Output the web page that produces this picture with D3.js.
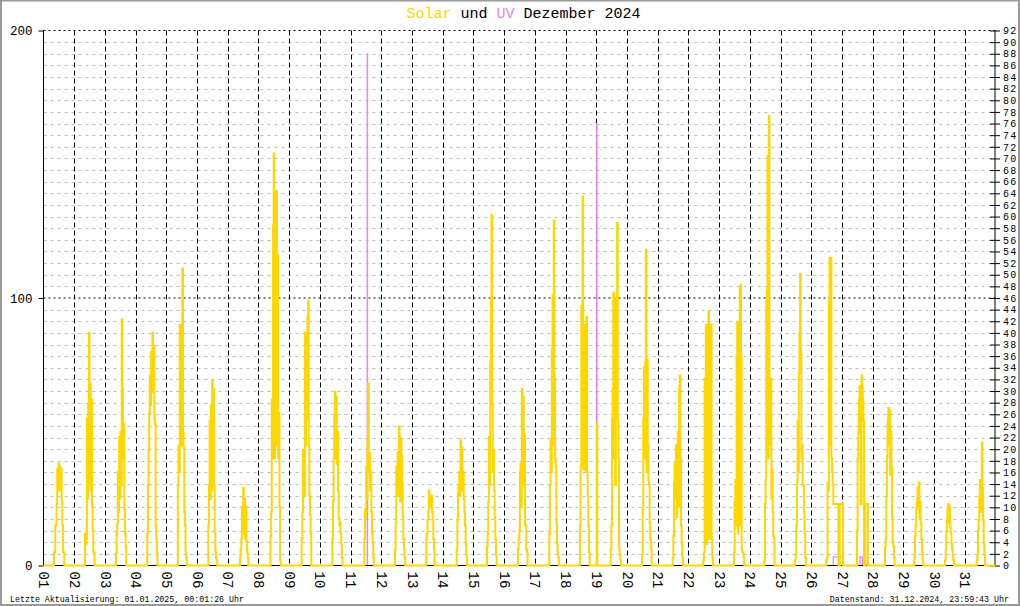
<!DOCTYPE html>
<html><head><meta charset="utf-8">
<script src="https://cdn.jsdelivr.net/npm/d3@7"></script>
<style>
body{margin:0;background:#fff}
svg{display:block}
text{font-family:"Liberation Mono","DejaVu Sans Mono",monospace}
</style>
</head><body>
<svg id="chart" width="1020" height="606"></svg>
<script>
// ---------------- data ----------------
const dayLabels = ["01","02","03","04","05","06","07","08","09","10","11","12","13","14","15","16",
  "17","18","19","20","21","22","23","24","25","26","27","28","29","30","31"];
const leftTicks = [0, 100, 200];
const rightTicks = [0,2,4,6,8,10,12,14,16,18,20,22,24,26,28,30,32,34,36,38,40,42,44,46,
  48,50,52,54,56,58,60,62,64,66,68,70,72,74,76,78,80,82,84,86,88,90,92];
// hour of the first daylight reading of each day
const solarStartHour = [8.2,8.43,8.66,9.12,9.0,8.79,9.57,9.4,9.78,9.7,10.71,10.7,11.16,10.92,10.6,10.82,
  11.28,11.28,11.27,11.73,11.72,11.64,11.63,11.31,11.3,11.76,11.76,9.64,8.53,8.53,9.3];
// solar readings (W/m²), one every 30 minutes from the start hour
const solarValues = [
  [5,5,15,15,23,36,28,38,30,37,28,36,24,15,5,5],
  [12,8,10,55,25,60,87,30,68,28,62,22,13,5,5],
  [5,12,16,35,20,48,25,50,30,92,66,40,53,21,12,7],
  [12,30,43,57,71,60,80,65,87,70,82,55,53,15,10,5],
  [30,45,35,90,55,80,45,111,50,44,20,15,5,3],
  [15,30,54,25,60,28,69,32,66,30,12,5,3,2],
  [3,6,10,22,12,29,14,25,10,22,9,5,3],
  [11,20,62,40,127,154,40,126,45,140,47,116,40,57,22,2],
  [10,20,43,35,26,87,45,87,55,93,99,45,26,19,12],
  [10,24,40,56,65,40,63,38,50,28,18,15,16,12,8,3],
  [10,21,18,37,25,47,68,35,42,28,35,20,12,8,3],
  [6,16,37,31,42,26,52,48,24,47,41,31,19,10,6,3],
  [10,12,17,20,28,24,26,22,26,20,17,10,6],
  [6,17,27,30,35,26,47,30,44,28,35,25,20,15,8,4],
  [7,12,24,48,30,76,100,131,60,35,43,28,18,10,4],
  [6,10,13,35,38,22,66,40,63,30,49,15,15,6,5],
  [12,30,47,35,81,101,45,129,70,40,37,16,8,5,3],
  [15,37,97,37,138,36,90,40,78,35,93,35,26,15,5,0,0,0,0,0,0,0,0,0,0,0,53],
  [6,15,55,66,102,40,97,30,100,60,128,55,40,6,4,2],
  [4,21,55,74,40,76,118,35,77,45,32,30,16,10,6],
  [3,11,31,38,25,45,18,38,50,22,66,71,40,15,8,3],
  [2,5,70,25,90,8,83,12,95,10,49,10,90,10,3],
  [5,24,32,15,78,91,12,90,15,104,105,78,6,5,5,3],
  [2,23,32,99,103,153,40,168,64,45,70,25,36,20,11,10],
  [2,4,15,31,54,35,72,87,109,80,40,45,30,30,20,12,3],
  [2,3,31,28,99,115,45,115,40,35,30,23,23,23,23,23,23,23,23,0,0,23,23,23,23,23],
  [13,40,50,62,67,60,23,71,67,62,54,0,0,23,23,23,23],
  [7,10,26,41,54,59,45,58,34,50,37,18,9,7,3],
  [3,11,15,21,24,29,22,31,18,24,16,10,5,2],
  [2,6,13,17,21,23,16,22,14,12,8,6,3,2],
  [2,4,13,17,26,32,20,30,46,29,17,8,4]
];
// UV readings (each value holds until the next reading)
const uvTime  = ["01 00:00","11 13:00","11 13:15","19 00:20","19 00:35","26 17:14","27 01:02",
  "27 14:05","27 15:53","27 18:00","27 18:33"];
const uvValue = [0,88,0,76,0,1.5,0,1.5,0,1.5,0];

const titleParts = [["Solar","#FFD700"],[" und ","#000"],["UV","#EE82EE"],[" Dezember 2024","#000"]];
const footLeft = "Letzte Aktualisierung: 01.01.2025, 00:01:26 Uhr";
const footRight = "Datenstand: 31.12.2024, 23:59:43 Uhr";

// ---------------- layout ----------------
const svg = d3.select("#chart");
const L = 43.5, R = 995.5, T = 30.5, B = 565.5;
const x = d3.scaleLinear().domain([0, 31]).range([L, R]);
const yL = d3.scaleLinear().domain([0, 200]).range([B, T]);
const yR = d3.scaleLinear().domain([0, 92]).range([B, T]);

// frame
svg.append("rect").attr("x",1).attr("y",0.5).attr("width",1018).attr("height",604.5)
  .attr("fill","none").attr("stroke","#9a9a9a").attr("stroke-width",2);

// gray horizontal grid (every 2 on right scale)
svg.append("g").selectAll("line").data(rightTicks.filter(v => v % 46 !== 0)).join("line")
  .attr("x1",L).attr("x2",R-0.5).attr("y1",d=>Math.round(yR(d))+0.5).attr("y2",d=>Math.round(yR(d))+0.5)
  .attr("stroke","#bdbdbd").attr("stroke-dasharray","3,4");

// black dotted horizontal grid (100, 200)
svg.append("g").selectAll("line").data([100,200]).join("line")
  .attr("x1",L).attr("x2",R).attr("y1",d=>yL(d)).attr("y2",d=>yL(d))
  .attr("stroke","#000").attr("stroke-dasharray","2,3");

// vertical day grid
svg.append("g").selectAll("line").data(d3.range(1,31)).join("line")
  .attr("x1",d=>Math.round(x(d))+0.5).attr("x2",d=>Math.round(x(d))+0.5).attr("y1",T).attr("y2",B)
  .attr("stroke","#000").attr("stroke-dasharray","5,3");

// UV series
const parseT = s => { const [d, hm] = s.split(" "); const [h, m] = hm.split(":").map(Number);
  return (+d - 1) + (h + m/60)/24; };
const uv = uvTime.map((s,i)=>({t:parseT(s), v:uvValue[i]}));
uv.push({t:31, v:0});
svg.append("path").datum(uv)
  .attr("d", d3.line().x(d=>x(d.t)).y(d=>yR(d.v)).curve(d3.curveStepAfter))
  .attr("fill","none").attr("stroke","#EE82EE").attr("stroke-width",1.2);

// axes
const axL = svg.append("g").attr("transform",`translate(${L},0)`)
  .call(d3.axisLeft(yL).tickValues(leftTicks).tickSize(5).tickPadding(6));
axL.select(".domain").attr("stroke","#000").attr("d",`M0,${T}V${B}`);
axL.selectAll("text").attr("font-size",12.5).attr("fill","#000")
  .attr("font-family","Liberation Mono, DejaVu Sans Mono, monospace");

const axR = svg.append("g").attr("transform",`translate(${R-0.5},0)`)
  .call(d3.axisRight(yR).tickValues(rightTicks).tickSize(5).tickPadding(3));
axR.select(".domain").attr("stroke","#000").attr("d",`M0,${T}V${B}`);
axR.selectAll(".tick line").attr("x1",-5).attr("x2",5);
axR.selectAll("text").attr("font-size",10).attr("letter-spacing",1.3).attr("fill","#000")
  .attr("font-family","Liberation Mono, DejaVu Sans Mono, monospace");

const axB = svg.append("g").attr("transform",`translate(0,${B})`)
  .call(d3.axisBottom(x).tickValues(d3.range(0,31)).tickSize(0).tickFormat(i=>dayLabels[i]));
axB.select(".domain").attr("stroke","#000").attr("d",`M${L},0H${R}`);
axB.selectAll("text").attr("font-size",14).attr("fill","#000")
  .attr("font-family","Liberation Mono, DejaVu Sans Mono, monospace")
  .attr("text-anchor","start").attr("transform","rotate(90)")
  .attr("x",6).attr("y",0).attr("dy","0.35em");

// Solar series
const solar = [{t:0, v:0}];
const step = 0.5/24;
solarValues.forEach((vals, i) => {
  const t0 = i + solarStartHour[i]/24;
  vals.forEach((v,k) => solar.push({t:t0 + k*step, v}));
  solar.push({t:t0 + vals.length*step, v:0});
});
solar.push({t:31, v:0});
svg.append("path").datum(solar)
  .attr("d", d3.line().x(d=>x(d.t)).y(d=>yL(d.v)).curve(d3.curveStepAfter))
  .attr("fill","none").attr("stroke","#FFD700").attr("stroke-width",2).attr("stroke-linejoin","miter");

// title
const title = svg.append("text").attr("x",523.5).attr("y",17.5).attr("text-anchor","middle")
  .attr("font-size",15);
title.selectAll("tspan").data(titleParts).join("tspan").attr("fill",d=>d[1]).text(d=>d[0])
  .attr("xml:space","preserve").style("white-space","pre");

// footers
svg.append("text").attr("x",10).attr("y",602).attr("font-size",8.3).attr("fill","#000").text(footLeft);
svg.append("text").attr("x",1009).attr("y",602).attr("font-size",8.3).attr("fill","#000")
  .attr("text-anchor","end").text(footRight);
</script>
</body></html>
